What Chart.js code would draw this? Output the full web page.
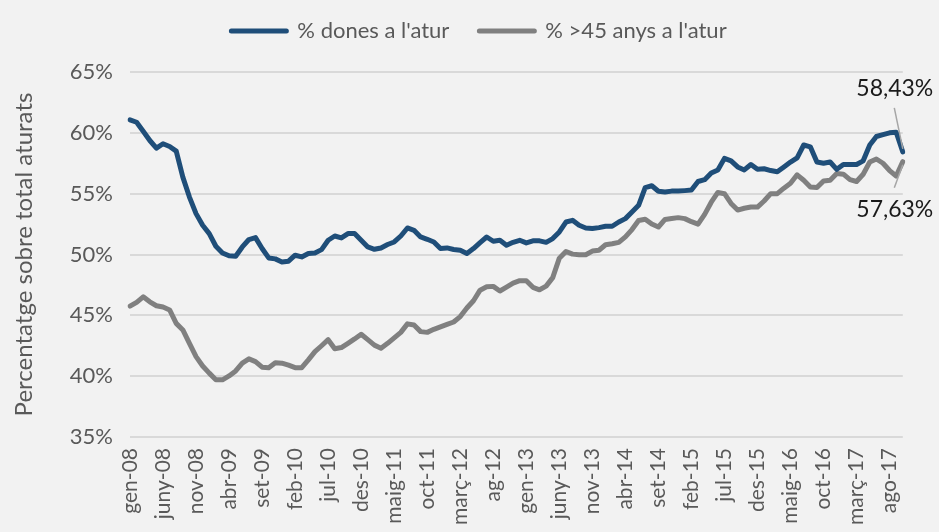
<!DOCTYPE html>
<html>
<head>
<meta charset="utf-8">
<script src="https://cdn.jsdelivr.net/npm/chart.js@4"></script>
<style>
html,body{margin:0;padding:0;background:#f2f2f2;}
#wrap{width:939px;height:532px;position:relative;}
</style>
</head>
<body>
<div id="wrap"><canvas id="c" width="939" height="532"></canvas></div>
<script>
// Monthly categories, gen-08 .. oct-17
const categories = [
  'gen-08','feb-08','març-08','abr-08','maig-08','juny-08','jul-08','ag-08','set-08','oct-08','nov-08','des-08',
  'gen-09','feb-09','març-09','abr-09','maig-09','juny-09','jul-09','ag-09','set-09','oct-09','nov-09','des-09',
  'gen-10','feb-10','març-10','abr-10','maig-10','juny-10','jul-10','ag-10','set-10','oct-10','nov-10','des-10',
  'gen-11','feb-11','març-11','abr-11','maig-11','juny-11','jul-11','ag-11','set-11','oct-11','nov-11','des-11',
  'gen-12','feb-12','març-12','abr-12','maig-12','juny-12','jul-12','ag-12','set-12','oct-12','nov-12','des-12',
  'gen-13','feb-13','març-13','abr-13','maig-13','juny-13','jul-13','ag-13','set-13','oct-13','nov-13','des-13',
  'gen-14','feb-14','març-14','abr-14','maig-14','juny-14','jul-14','ag-14','set-14','oct-14','nov-14','des-14',
  'gen-15','feb-15','març-15','abr-15','maig-15','juny-15','jul-15','ag-15','set-15','oct-15','nov-15','des-15',
  'gen-16','feb-16','març-16','abr-16','maig-16','juny-16','jul-16','ag-16','set-16','oct-16','nov-16','des-16',
  'gen-17','feb-17','març-17','abr-17','maig-17','juny-17','jul-17','ago-17','set-17','oct-17'
];

// Visible x tick labels (every 5th month)
const tickLabels = ['gen-08','juny-08','nov-08','abr-09','set-09','feb-10','jul-10','des-10','maig-11','oct-11',
  'març-12','ag-12','gen-13','juny-13','nov-13','abr-14','set-14','feb-15','jul-15','des-15','maig-16','oct-16','març-17','ago-17'];

const seriesNames = ["% dones a l'atur", "% >45 anys a l'atur"];

// % dones a l'atur
const dones = [
  61.07,60.87,60.13,59.37,58.74,59.10,58.88,58.50,56.36,54.72,53.36,52.40,
  51.72,50.68,50.13,49.89,49.86,50.62,51.23,51.39,50.49,49.72,49.64,49.39,
  49.45,49.94,49.80,50.08,50.13,50.40,51.17,51.52,51.36,51.72,51.72,51.17,
  50.62,50.43,50.54,50.82,51.03,51.52,52.18,51.99,51.44,51.25,51.03,50.49,
  50.54,50.41,50.35,50.08,50.49,50.98,51.44,51.09,51.17,50.76,51.00,51.17,
  50.95,51.12,51.12,51.00,51.31,51.85,52.67,52.81,52.40,52.18,52.13,52.21,
  52.32,52.32,52.67,52.95,53.49,54.04,55.50,55.65,55.20,55.13,55.21,55.21,
  55.25,55.30,56.00,56.15,56.70,56.95,57.90,57.70,57.20,56.95,57.40,57.00,
  57.05,56.90,56.80,57.20,57.60,57.95,59.00,58.85,57.60,57.50,57.60,57.00,
  57.40,57.40,57.40,57.70,59.00,59.70,59.85,60.00,60.05,58.43
];

// % >45 anys a l'atur
const majors45 = [
  45.76,46.07,46.52,46.11,45.79,45.68,45.44,44.34,43.80,42.70,41.61,40.84,
  40.25,39.70,39.70,40.02,40.43,41.07,41.42,41.20,40.74,40.70,41.11,41.07,
  40.90,40.70,40.70,41.34,42.02,42.50,43.00,42.25,42.35,42.70,43.06,43.44,
  43.00,42.55,42.30,42.70,43.15,43.60,44.30,44.20,43.66,43.60,43.85,44.05,
  44.25,44.45,44.90,45.60,46.20,47.07,47.34,47.38,47.00,47.32,47.65,47.85,
  47.85,47.30,47.10,47.40,48.10,49.70,50.25,50.03,49.98,49.98,50.28,50.35,
  50.80,50.88,51.00,51.45,52.05,52.80,52.90,52.50,52.26,52.88,52.96,53.03,
  52.95,52.70,52.50,53.30,54.30,55.10,55.00,54.20,53.65,53.80,53.90,53.90,
  54.40,55.00,55.00,55.45,55.85,56.55,56.10,55.55,55.50,56.05,56.10,56.65,
  56.60,56.15,56.00,56.60,57.60,57.85,57.50,56.90,56.45,57.63
];

const yMin = 35, yMax = 65, yStep = 5;

const FONT = "Lato, 'Open Sans', 'DejaVu Sans', sans-serif";
const TEXT = '#595959';
const BLUE = '#1f4e79';
const GREY = '#808080';

const bgPlugin = {
  id: 'bg',
  beforeDraw(chart) {
    const ctx = chart.ctx;
    ctx.save();
    ctx.fillStyle = '#f2f2f2';
    ctx.fillRect(0, 0, chart.width, chart.height);
    ctx.restore();
  }
};

const legendShift = {
  id: 'legendShift',
  afterLayout(chart) {
    const lg = chart.legend;
    if (!lg) return;
    const dx = 26, dy = -20;
    lg.left += dx; lg.right += dx;
    lg.top += dy; lg.bottom += dy;
  }
};

const endLabels = {
  id: 'endLabels',
  afterDatasetsDraw(chart) {
    const ctx = chart.ctx;
    const specs = [
      {ds: 0, textDy: -63, l1: -44, l2: -3},
      {ds: 1, textDy: 48, l1: 26, l2: 3}
    ];
    ctx.save();
    specs.forEach(s => {
      const meta = chart.getDatasetMeta(s.ds);
      const pts = meta.data;
      const p = pts[pts.length - 1];
      const data = chart.data.datasets[s.ds].data;
      const v = data[data.length - 1];
      const txt = v.toFixed(2).replace('.', ',') + '%';
      ctx.strokeStyle = '#a6a6a6';
      ctx.lineWidth = 1.5;
      ctx.beginPath();
      ctx.moveTo(p.x - 8.5, p.y + s.l1);
      ctx.lineTo(p.x, p.y + s.l2);
      ctx.stroke();
      ctx.fillStyle = '#1a1a1a';
      ctx.font = '23px ' + FONT;
      ctx.textAlign = 'center';
      ctx.textBaseline = 'middle';
      ctx.fillText(txt, p.x - 8, p.y + s.textDy);
    });
    ctx.restore();
  }
};

new Chart(document.getElementById('c'), {
  type: 'line',
  data: {
    labels: categories,
    datasets: [
      {
        label: seriesNames[0],
        data: dones,
        borderColor: BLUE,
        backgroundColor: BLUE,
        borderWidth: 5,
        pointRadius: 0,
        pointHoverRadius: 0,
        tension: 0,
        borderJoinStyle: 'round',
        borderCapStyle: 'round',
        fill: false
      },
      {
        label: seriesNames[1],
        data: majors45,
        borderColor: GREY,
        backgroundColor: GREY,
        borderWidth: 5,
        pointRadius: 0,
        pointHoverRadius: 0,
        tension: 0,
        borderJoinStyle: 'round',
        borderCapStyle: 'round',
        fill: false
      }
    ]
  },
  options: {
    responsive: false,
    animation: false,
    devicePixelRatio: 1,
    layout: { padding: { top: 10, left: 0, right: 33, bottom: 0 } },
    plugins: {
      legend: {
        display: true,
        position: 'top',
        labels: {
          boxWidth: 55,
          boxHeight: 0,
          padding: 30,
          color: TEXT,
          font: { family: FONT, size: 22 }
        }
      },
      tooltip: { enabled: false }
    },
    scales: {
      x: {
        type: 'category',
        offset: false,
        grid: { display: false, drawTicks: false },
        border: { display: false },
        ticks: {
          autoSkip: false,
          maxRotation: 90,
          minRotation: 90,
          padding: 11,
          color: TEXT,
          font: { family: FONT, size: 21 },
          callback: function(val, idx) {
            return idx % 5 === 0 ? tickLabels[idx / 5] : '';
          }
        },
        afterFit(scale) { scale.height = 95; }
      },
      y: {
        min: yMin,
        max: yMax,
        grid: { color: '#d9d9d9', lineWidth: 2, drawTicks: false },
        border: { display: false },
        ticks: {
          stepSize: yStep,
          padding: 17,
          color: TEXT,
          font: { family: FONT, size: 22 },
          callback: v => v + '%'
        },
        title: {
          display: true,
          text: 'Percentatge sobre total aturats',
          color: TEXT,
          font: { family: FONT, size: 24 },
          padding: { top: 10, bottom: 0 }
        },
        afterFit(scale) { scale.width = 130; }
      }
    }
  },
  plugins: [bgPlugin, legendShift, endLabels]
});
</script>
</body>
</html>
